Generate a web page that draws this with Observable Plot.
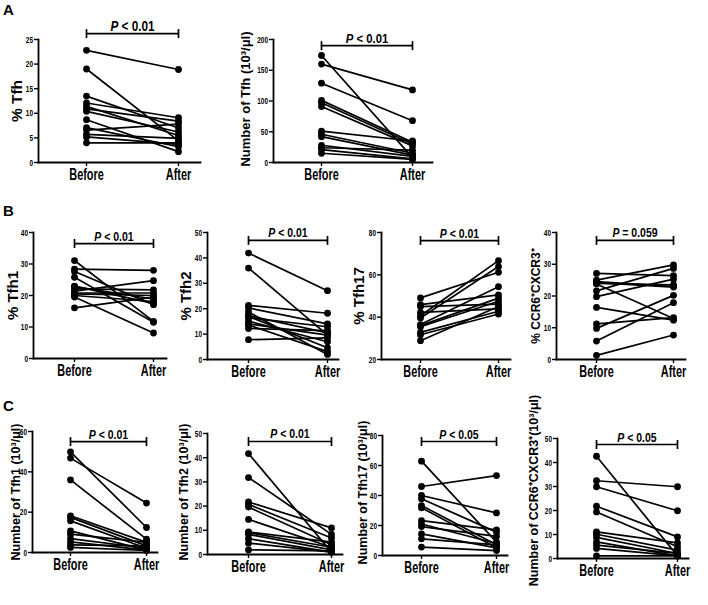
<!DOCTYPE html>
<html><head><meta charset="utf-8">
<script src="https://cdn.jsdelivr.net/npm/d3@7"></script>
<script src="https://cdn.jsdelivr.net/npm/@observablehq/plot@0.6"></script>
<style>
body{margin:0;background:#fff;}
#fig{position:relative;width:708px;height:605px;overflow:hidden;font-family:"Liberation Sans",Arial,sans-serif;color:#000;}
.panel{position:absolute;}
.letter{position:absolute;font-weight:bold;font-size:15px;line-height:15px;}
</style></head><body><div id="fig"></div>
<script>
const groups = ["Before", "After"];

// Panel A
const tfhPctBefore = [22.8, 19.0, 13.5, 12.1, 11.4, 10.9, 10.4, 8.7, 7.1, 6.6, 5.7, 5.2, 4.0];
const tfhPctAfter  = [18.9, 4.4, 7.0, 9.1, 5.5, 8.4, 6.2, 2.2, 3.2, 7.8, 4.9, 3.7, 4.0];
const tfhNumBefore = [174, 160, 129, 101, 97, 91, 51, 46, 42, 28, 24, 21, 15];
const tfhNumAfter  = [8, 118, 68, 33, 30, 27, 35, 15, 12, 10, 20, 6, 5];

// Panel B
const tfh1PctBefore = [31.1, 28.4, 27.6, 25.8, 22.8, 22.1, 21.4, 20.5, 20.0, 19.5, 16.1, 23.0, 20.8];
const tfh1PctAfter  = [11.8, 28.0, 17.1, 11.5, 18.9, 21.8, 24.7, 20.0, 18.1, 8.1, 19.5, 17.5, 20.8];
const tfh2PctBefore = [41.9, 36.0, 21.3, 20.3, 18.7, 17.3, 16.4, 15.1, 13.6, 12.2, 7.8, 17.0, 14.0];
const tfh2PctAfter  = [27.1, 9.6, 18.2, 14.0, 2.0, 10.5, 12.9, 7.0, 3.1, 11.4, 8.5, 4.6, 9.6];
const tfh17PctBefore = [49.1, 45.9, 45.0, 42.3, 40.7, 39.6, 36.5, 35.5, 32.8, 31.7, 28.9, 36.0];
const tfh17PctAfter  = [61.2, 50.5, 46.2, 43.9, 66.7, 63.9, 54.4, 47.5, 42.8, 41.5, 45.0, 49.0];
const ccrPctBefore = [27.1, 25.0, 24.2, 24.0, 21.6, 19.8, 16.4, 11.2, 9.8, 5.8, 1.3, 24.5, 23.8];
const ccrPctAfter  = [26.4, 29.8, 22.8, 23.5, 28.7, 25.3, 12.4, 13.2, 20.2, 17.9, 7.7, 23.0, 12.9];

// Panel C
const tfh1NumBefore = [49.9, 46.8, 36.0, 18.2, 17.4, 15.7, 10.7, 9.1, 6.9, 5.3, 3.8, 2.5];
const tfh1NumAfter  = [12.4, 24.5, 6.6, 5.0, 3.3, 2.1, 1.2, 5.0, 2.1, 1.2, 3.3, 1.0];
const tfh2NumBefore = [41.7, 31.8, 21.7, 20.7, 19.6, 14.5, 9.3, 8.3, 6.5, 4.7, 1.9, 9.0];
const tfh2NumAfter  = [1.0, 8.3, 11.0, 6.8, 4.0, 3.0, 5.1, 1.9, 1.0, 1.0, 1.5, 3.0];
const tfh17NumBefore = [62.9, 46.0, 40.0, 37.8, 33.3, 31.8, 23.3, 19.3, 14.4, 11.1, 5.6, 21.0];
const tfh17NumAfter  = [8.9, 53.3, 28.4, 15.6, 7.1, 5.1, 17.1, 12.7, 5.1, 7.1, 3.3, 8.0];
const ccrNumBefore = [42.6, 32.4, 29.9, 21.8, 19.4, 11.1, 10.1, 8.8, 6.9, 5.6, 4.2, 1.1];
const ccrNumAfter  = [1.1, 29.9, 19.9, 9.0, 4.9, 6.5, 3.5, 2.1, 1.1, 2.1, 1.1, 1.1];

// Tick labels
const ticksA1 = [0, 5, 10, 15, 20, 25];
const ticksA2 = [0, 50, 100, 150, 200];
const ticksB1 = [0, 10, 20, 30, 40];
const ticksB2 = [0, 10, 20, 30, 40, 50];
const ticksB3 = [20, 40, 60, 80];
const ticksB4 = [0, 10, 20, 30, 40];
const ticksC1 = [0, 20, 40, 60];
const ticksC2 = [0, 10, 20, 30, 40, 50];
const ticksC3 = [0, 20, 40, 60, 80];
const ticksC4 = [0, 10, 20, 30, 40, 50];

// Labels and p-values
const yLabels = ["% Tfh", "Number of Tfh (10³/μl)", "% Tfh1", "% Tfh2", "% Tfh17", "% CCR6⁺CXCR3⁺",
  "Number of Tfh1 (10³/μl)", "Number of Tfh2 (10³/μl)", "Number of Tfh17 (10³/μl)", "Number of CCR6⁺CXCR3⁺(10³/μl)"];
const pTexts = ["P < 0.01", "P < 0.01", "P < 0.01", "P < 0.01", "P < 0.01", "P = 0.059", "P < 0.01", "P < 0.01", "P < 0.05", "P < 0.05"];
const bracketLevels = [26.2, 190, 36.5, 46.9, 76.2, 37.5, 55, 46.7, 76, 47.5];

const panels = [
  {before: tfhPctBefore, after: tfhPctAfter, ticks: ticksA1, lay: {axisX: 38, yTop: 39, yBot: 162, xB: 86, xA: 178, xEnd: 200, labX: 17, labDy: 0, labSize: 15.5, pSize: 14}},
  {before: tfhNumBefore, after: tfhNumAfter, ticks: ticksA2, lay: {axisX: 273, yTop: 39, yBot: 162, xB: 321, xA: 412, xEnd: 432, labX: 245, labDy: -2, labSize: 13, pSize: 13.5}},
  {before: tfh1PctBefore, after: tfh1PctAfter, ticks: ticksB1, lay: {axisX: 33, yTop: 232, yBot: 358, xB: 74, xA: 153, xEnd: 166, labX: 13, labDy: 0, labSize: 15, pSize: 12.5}},
  {before: tfh2PctBefore, after: tfh2PctAfter, ticks: ticksB2, lay: {axisX: 207, yTop: 232, yBot: 359, xB: 248, xA: 327, xEnd: 338, labX: 186, labDy: 0, labSize: 15, pSize: 12.5}},
  {before: tfh17PctBefore, after: tfh17PctAfter, ticks: ticksB3, lay: {axisX: 381, yTop: 232, yBot: 359, xB: 420, xA: 498, xEnd: 510, labX: 359, labDy: 0, labSize: 15, pSize: 12.5}},
  {before: ccrPctBefore, after: ccrPctAfter, ticks: ticksB4, lay: {axisX: 556, yTop: 232, yBot: 359, xB: 596, xA: 673, xEnd: 685, labX: 536, labDy: 0, labSize: 12, pSize: 12.5}},
  {before: tfh1NumBefore, after: tfh1NumAfter, ticks: ticksC1, lay: {axisX: 32, yTop: 431, yBot: 552, xB: 70, xA: 146, xEnd: 157, labX: 15, labDy: 0, labSize: 12.5, pSize: 12.5}},
  {before: tfh2NumBefore, after: tfh2NumAfter, ticks: ticksC2, lay: {axisX: 207, yTop: 433, yBot: 554, xB: 248, xA: 331, xEnd: 342, labX: 183, labDy: -2, labSize: 12.5, pSize: 12.5}},
  {before: tfh17NumBefore, after: tfh17NumAfter, ticks: ticksC3, lay: {axisX: 382, yTop: 435, yBot: 555, xB: 421, xA: 496, xEnd: 507, labX: 362, labDy: -3, labSize: 12.5, pSize: 12.5}},
  {before: ccrNumBefore, after: ccrNumAfter, ticks: ticksC4, lay: {axisX: 557, yTop: 438, yBot: 558, xB: 596, xA: 677, xEnd: 688, labX: 533, labDy: -8, labSize: 12.5, pSize: 12.5}}
];

const capSymbol = {
  draw(context, size) {
    const h = Math.sqrt(size / Math.PI);
    context.moveTo(0, -h);
    context.lineTo(0, h);
  }
};

function squeeze(el, sx) {
  const t = el.getAttribute("transform");
  if (t) el.setAttribute("transform", t + ` scale(${sx},1)`);
  else {
    const x = +el.getAttribute("x") || 0, y = +el.getAttribute("y") || 0;
    el.removeAttribute("x"); el.removeAttribute("y");
    el.setAttribute("transform", `translate(${x},${y}) scale(${sx},1)`);
  }
}

const fig = document.getElementById("fig");

panels.forEach((cfg, k) => {
  const L = cfg.lay;
  const mL = 44, mR = 14, mT = 42, mB = 30;
  const left = L.axisX - mL, top = L.yTop - mT;
  const width = mL + (L.xEnd - L.axisX) + mR;
  const height = mT + (L.yBot - L.yTop) + mB;
  const yMin = cfg.ticks[0], yMax = cfg.ticks[cfg.ticks.length - 1];
  const rows = [];
  cfg.before.forEach((b, i) => {
    rows.push({id: i, time: "Before", value: b});
    rows.push({id: i, time: "After", value: cfg.after[i]});
  });
  const bracket = [{x1: "Before", x2: "After", y: bracketLevels[k]}];
  const plot = Plot.plot({
    width, height,
    marginLeft: mL, marginRight: mR, marginTop: mT, marginBottom: mB,
    style: {background: "transparent", overflow: "visible", fontFamily: "'Liberation Sans', Arial, sans-serif", color: "#000"},
    x: {type: "point", domain: groups, range: [L.xB - left, L.xA - left], padding: 0, align: 0.5, label: null},
    y: {domain: [yMin, yMax], label: null},
    marks: [
      Plot.frame({anchor: "left", strokeWidth: 1.8}),
      Plot.frame({anchor: "bottom", strokeWidth: 1.8}),
      Plot.axisY({ticks: cfg.ticks, tickSize: 4, tickPadding: 1.5, fontSize: 9.5, fontWeight: "bold", strokeWidth: 1.4, label: null}),
      Plot.axisX({tickSize: 4, tickPadding: 2, fontSize: 16, fontWeight: "bold", strokeWidth: 1.4, label: null}),
      Plot.line(rows, {x: "time", y: "value", z: "id", stroke: "#000", strokeWidth: 1.7}),
      Plot.dot(rows, {x: "time", y: "value", r: 3.4, fill: "#000"}),
      Plot.ruleY(bracket, {x1: "x1", x2: "x2", y: "y", stroke: "#000", strokeWidth: 1.7}),
      Plot.dot([{x: "Before", y: bracketLevels[k]}, {x: "After", y: bracketLevels[k]}], {x: "x", y: "y", symbol: capSymbol, r: 4.5, stroke: "#000", strokeWidth: 1.7, fill: "none"}),
      Plot.text([{x: "Before", y: bracketLevels[k], t: pTexts[k]}], {x: "x", y: "y", text: "t", dx: (L.xA - L.xB) / 2, dy: -3, lineAnchor: "bottom", textAnchor: "middle", fontSize: L.pSize, fontWeight: "bold", fill: "#000"}),
      Plot.text([yLabels[k]], {frameAnchor: "left", rotate: -90, dx: L.labX - L.axisX, dy: L.labDy, textAnchor: "middle", lineAnchor: "middle", fontSize: L.labSize, fontWeight: "bold", fill: "#000"})
    ]
  });
  // italic P in p-value labels (narrowed to match the reference's condensed lettering)
  d3.select(plot).selectAll("text").each(function() {
    const s = this.textContent;
    if (/^P [<=]/.test(s)) {
      const rest = s.slice(1);
      const sel = d3.select(this);
      sel.text(null);
      sel.append("tspan").attr("font-style", "italic").text("P");
      sel.append("tspan").text(rest);
      squeeze(this, 0.84);
    }
  });
  // narrow tick labels
  d3.select(plot).selectAll('g[aria-label="x-axis tick label"] text').each(function() { squeeze(this, 0.68); });
  d3.select(plot).selectAll('g[aria-label="y-axis tick label"] text').each(function() { squeeze(this, 0.68); });
  const div = document.createElement("div");
  div.className = "panel";
  div.style.left = left + "px";
  div.style.top = top + "px";
  div.appendChild(plot);
  fig.appendChild(div);
});

[["A", 3, 2], ["B", 3, 203], ["C", 3, 398]].forEach(([t, x, y]) => {
  const d = document.createElement("div");
  d.className = "letter";
  d.textContent = t;
  d.style.left = x + "px";
  d.style.top = y + "px";
  fig.appendChild(d);
});
</script>
</body></html>
